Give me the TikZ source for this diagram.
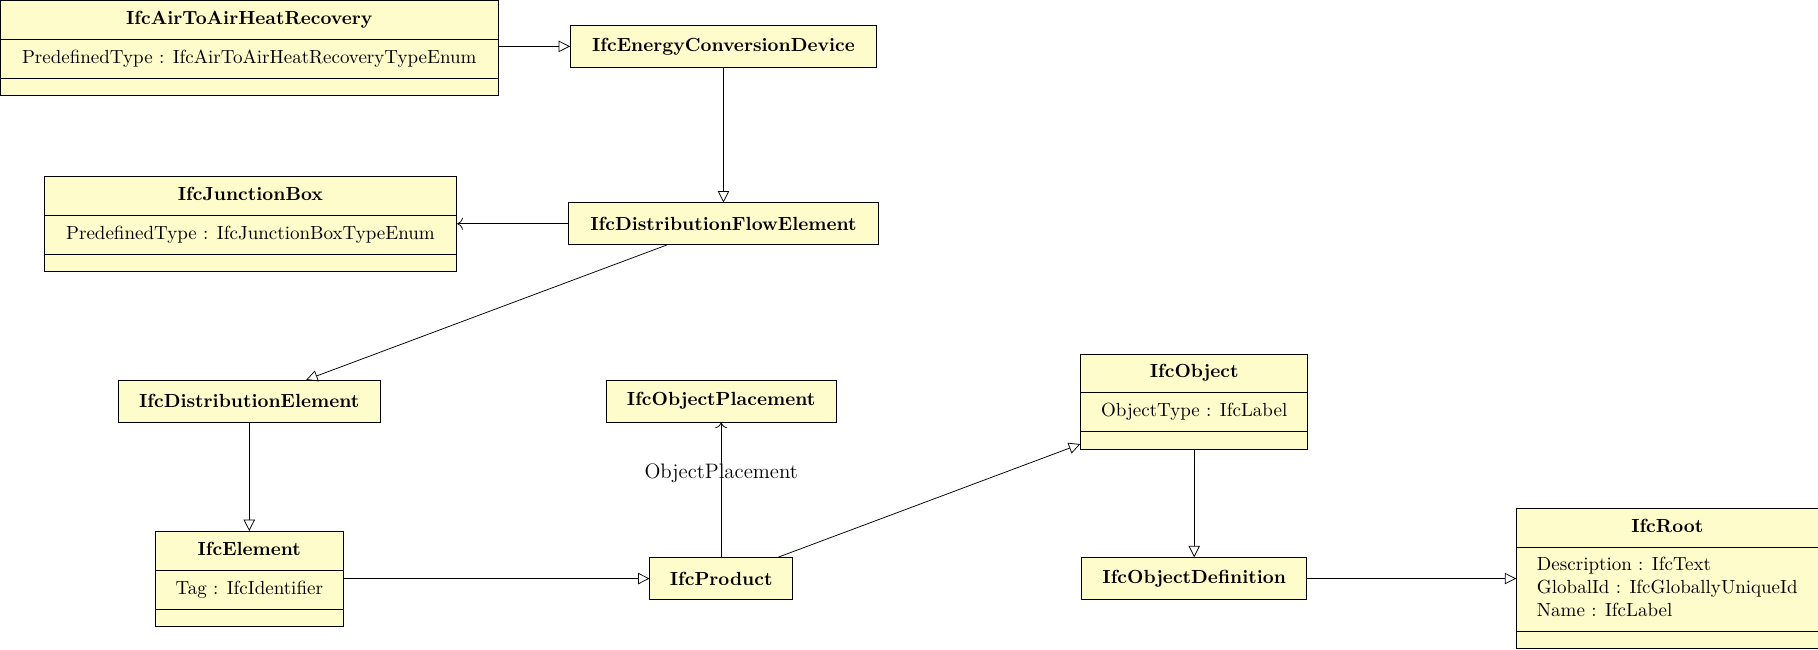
\documentclass[tikz,border=0pt]{standalone}
\usepackage{tikz}
\usetikzlibrary{shapes.multipart}
\usetikzlibrary{arrows.meta}
\def\unite{0.61pt}
\def\largeur{1568}
\def\hauteur{560}

\begin{document}
\begin{tikzpicture}[x=\unite, y=-\unite,
	classe/.style={draw, fill=yellow!20, rectangle split, rectangle split parts=3, inner xsep=0pt, inner ysep=4pt, anchor=north},
	boite/.style={draw, fill=yellow!20, minimum height=22pt, inner xsep=0pt, font=\bfseries},
	herite/.style={-{Triangle[open, length=6pt, width=6pt]}},
	assoc/.style={-{To[length=3pt]}}]
	\useasboundingbox (0,0) rectangle (\largeur,\hauteur);
	% classes with attributes
	\node[classe, minimum width=430*\unite] (air) at (215,0) {\textbf{IfcAirToAirHeatRecovery}\strut
		\nodepart{two} PredefinedType : IfcAirToAirHeatRecoveryTypeEnum\strut
		\nodepart{three} \rule{0pt}{0.8pt}};
	\node[classe, minimum width=356*\unite] (jbox) at (216,152) {\textbf{IfcJunctionBox}\strut
		\nodepart{two} PredefinedType : IfcJunctionBoxTypeEnum\strut
		\nodepart{three} \rule{0pt}{0.8pt}};
	\node[classe, minimum width=196*\unite] (obj) at (1030,305) {\textbf{IfcObject}\strut
		\nodepart{two} ObjectType : IfcLabel\strut
		\nodepart{three} \rule{0pt}{0.8pt}};
	\node[classe, minimum width=162*\unite] (elem) at (215,458) {\textbf{IfcElement}\strut
		\nodepart{two} Tag : IfcIdentifier\strut
		\nodepart{three} \rule{0pt}{0.8pt}};
	\node[classe, minimum width=260*\unite] (root) at (1438,438) {\textbf{IfcRoot}\strut
		\nodepart{two} \begin{tabular}{@{}l@{}}Description : IfcText\\GlobalId : IfcGloballyUniqueId\\Name : IfcLabel\end{tabular}
		\nodepart{three} \rule{0pt}{0.8pt}};
	% plain classes
	\node[boite, minimum width=264*\unite] (ecd) at (624,40) {IfcEnergyConversionDevice};
	\node[boite, minimum width=268*\unite] (dfe) at (624,193) {IfcDistributionFlowElement};
	\node[boite, minimum width=226*\unite] (delem) at (215,346) {IfcDistributionElement};
	\node[boite, minimum width=198*\unite] (oplace) at (622,346) {IfcObjectPlacement};
	\node[boite, minimum width=123*\unite] (prod) at (622,499) {IfcProduct};
	\node[boite, minimum width=194*\unite] (odef) at (1030,499) {IfcObjectDefinition};
	% links
	\draw[herite] (ecd.west -| air.east) -- (ecd.west);
	\draw[herite] (ecd) -- (dfe);
	\draw[assoc] (dfe.west) -- (dfe.west -| jbox.east);
	\draw[herite] (dfe) -- (delem);
	\draw[herite] (delem) -- (elem);
	\draw[herite] (prod.west -| elem.east) -- (prod.west);
	\draw[assoc] (prod) -- node[pos=0.62, font=\fontsize{11}{13}\selectfont] (oplabel) {ObjectPlacement} (oplace);
	\draw[herite] (prod) -- (obj);
	\draw[herite] (obj) -- (odef);
	\draw[herite] (odef.east) -- (odef.east -| root.west);
\end{tikzpicture}
\end{document}
